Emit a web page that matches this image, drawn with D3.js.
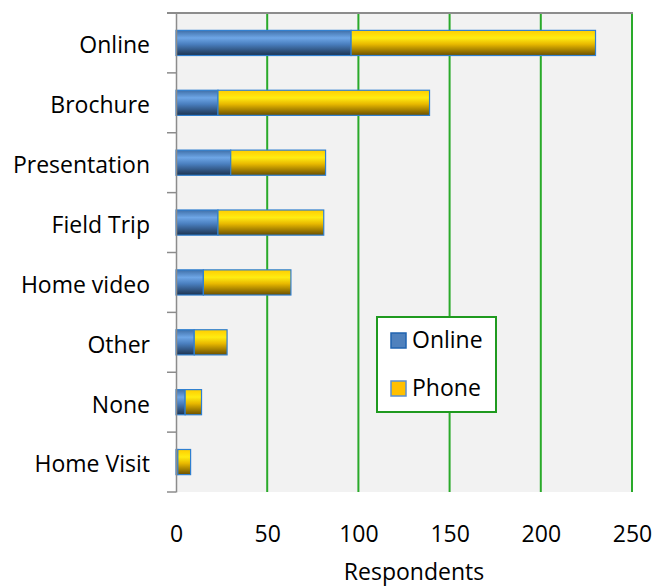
<!DOCTYPE html>
<html>
<head>
<meta charset="utf-8">
<script src="https://cdn.jsdelivr.net/npm/d3@7"></script>
<style>
  body { margin: 0; background: #fff; }
  svg { display: block; font-family: "Open Sans", sans-serif; }
</style>
</head>
<body>
<div class="chart"></div>
<script>
// Respondents by channel, stacked: online survey + phone survey
const categories = ["Online", "Brochure", "Presentation", "Field Trip", "Home video", "Other", "None", "Home Visit"];
const onlineValues = [96, 23, 30, 23, 15, 10, 5, 1];
const phoneValues = [134, 116, 52, 58, 48, 18, 9, 7];
const seriesNames = ["Online", "Phone"];
const xTicks = [0, 50, 100, 150, 200, 250];

const w = 662;
const h = 586;
const margin = { top: 13, right: 30, bottom: 94, left: 176 };

const rows = categories.map((c, i) => ({ category: c, Online: onlineValues[i], Phone: phoneValues[i] }));

const svg = d3.select(".chart")
  .append("svg")
  .attr("width", w)
  .attr("height", h);

const xScale = d3.scaleLinear()
  .domain([0, 250])
  .range([margin.left, w - margin.right]);

const yScale = d3.scaleBand()
  .domain(categories)
  .range([margin.top, h - margin.bottom])
  .padding(0);

const barH = yScale.bandwidth() * 0.42;

// gradients for the bar fills
const defs = svg.append("defs");
function addGradient(id, stops) {
  const g = defs.append("linearGradient")
    .attr("id", id)
    .attr("x1", 0).attr("y1", 0).attr("x2", 0).attr("y2", 1);
  stops.forEach((s) => g.append("stop").attr("offset", s[0]).attr("stop-color", s[1]));
}
addGradient("gradOnline", [[0, "#3f6fa8"], [0.3, "#6ea6e6"], [0.55, "#4a7fbf"], [1, "#1c3350"]]);
addGradient("gradPhone", [[0, "#ffcc00"], [0.3, "#ffec12"], [0.55, "#e8b800"], [1, "#6a4f00"]]);

// plot background
svg.append("rect")
  .attr("x", margin.left)
  .attr("y", margin.top)
  .attr("width", xScale(250) - margin.left)
  .attr("height", h - margin.bottom - margin.top)
  .attr("fill", "#f2f2f2");

// vertical gridlines
svg.append("g")
  .selectAll("line")
  .data(xTicks.slice(1))
  .enter()
  .append("line")
  .attr("x1", (d) => xScale(d))
  .attr("x2", (d) => xScale(d))
  .attr("y1", margin.top)
  .attr("y2", h - margin.bottom)
  .attr("stroke", "#2aaa2a")
  .attr("stroke-width", 2);

// top border line
svg.append("line")
  .attr("x1", margin.left - 9)
  .attr("x2", xScale(250) + 1)
  .attr("y1", margin.top)
  .attr("y2", margin.top)
  .attr("stroke", "#8c8c8c")
  .attr("stroke-width", 2);

// stacked bars
const stack = d3.stack().keys(seriesNames);
const stacked = stack(rows);
const fills = { Online: "url(#gradOnline)", Phone: "url(#gradPhone)" };

svg.append("g")
  .selectAll("g")
  .data(stacked)
  .enter()
  .append("g")
  .attr("fill", (s) => fills[s.key])
  .selectAll("rect")
  .data((s) => s)
  .enter()
  .append("rect")
  .attr("x", (d) => xScale(d[0]))
  .attr("width", (d) => xScale(d[1]) - xScale(d[0]))
  .attr("y", (d) => yScale(d.data.category) + (yScale.bandwidth() - barH) / 2)
  .attr("height", barH)
  .attr("stroke", "#2f7fd0")
  .attr("stroke-width", 1.2);

// category axis on the left
const yAxis = d3.axisLeft(yScale).tickSize(0).tickPadding(26);
const yG = svg.append("g")
  .attr("transform", "translate(" + margin.left + ",0)")
  .call(yAxis);
yG.select(".domain").attr("stroke", "#8c8c8c").attr("stroke-width", 1.5);
yG.selectAll("text")
  .attr("font-size", 23)
  .attr("font-family", "Open Sans, sans-serif")
  .attr("fill", "#000")
  .attr("dy", "0.45em");

// tick marks between categories
const boundaries = categories.map((c) => yScale(c)).concat([h - margin.bottom]);
svg.append("g")
  .selectAll("line")
  .data(boundaries)
  .enter()
  .append("line")
  .attr("x1", margin.left - 9)
  .attr("x2", margin.left)
  .attr("y1", (d) => d)
  .attr("y2", (d) => d)
  .attr("stroke", "#8c8c8c")
  .attr("stroke-width", 1.5);

// value axis labels
const xAxis = d3.axisBottom(xScale).tickValues(xTicks).tickSize(0).tickPadding(34);
const xG = svg.append("g")
  .attr("transform", "translate(0," + (h - margin.bottom) + ")")
  .call(xAxis);
xG.select(".domain").remove();
xG.selectAll("text")
  .attr("font-size", 23)
  .attr("font-family", "Open Sans, sans-serif")
  .attr("fill", "#000");

svg.append("text")
  .attr("x", 414)
  .attr("y", 580)
  .attr("text-anchor", "middle")
  .attr("font-size", 23)
  .attr("fill", "#000")
  .text("Respondents");

// legend
const legend = svg.append("g").attr("transform", "translate(377,317)");
legend.append("rect")
  .attr("width", 119)
  .attr("height", 95)
  .attr("fill", "#fff")
  .attr("stroke", "#1f9a1f")
  .attr("stroke-width", 2);

const swatchFill = { Online: "#4f81bd", Phone: "#ffc000" };
const swatchStroke = { Online: "#1f63b0", Phone: "#5b8fd0" };
const item = legend.selectAll(".item")
  .data(seriesNames)
  .enter()
  .append("g")
  .attr("transform", (d, i) => "translate(14," + (16 + i * 48) + ")");
item.append("rect")
  .attr("width", 15)
  .attr("height", 15)
  .attr("fill", (d) => swatchFill[d])
  .attr("stroke", (d) => swatchStroke[d])
  .attr("stroke-width", 1.5);
item.append("text")
  .attr("x", 21)
  .attr("y", 15)
  .attr("font-size", 23)
  .attr("fill", "#000")
  .text((d) => d);
</script>
</body>
</html>
